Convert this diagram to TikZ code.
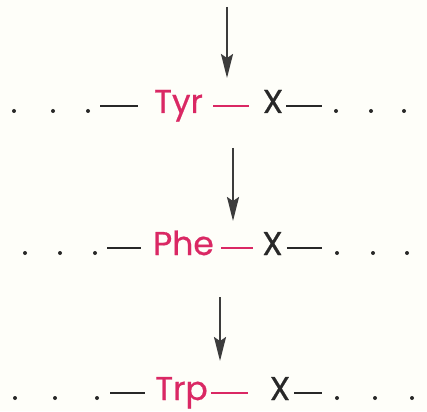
\documentclass[tikz,border=0pt]{standalone}
\usepackage{fontspec}
\newfontfamily\poppins[FakeBold=0.6]{Poppins}
\usetikzlibrary{arrows.meta}
\definecolor{papier}{RGB}{254,254,249}
\definecolor{rot}{RGB}{218,40,100}
\definecolor{schwarz}{RGB}{40,40,40}
\definecolor{pfeilgrau}{RGB}{60,60,60}
\tikzset{
  punkt/.style={circle,fill=schwarz,inner sep=0pt,minimum size=4pt},
  rest/.style={anchor=base,inner sep=0pt,text=rot,font=\poppins\fontsize{33}{38}\selectfont},
  xgruppe/.style={anchor=base,inner sep=0pt,text=schwarz,font=\poppins\fontsize{33}{38}\selectfont},
  bindung/.style={line width=2.5pt,draw=schwarz},
  rotbindung/.style={line width=2.5pt,draw=rot},
  pfeil/.style={line width=2pt,draw=pfeilgrau,-{Stealth[length=24pt,width=12pt,inset=4pt]}}
}
\begin{document}
\begin{tikzpicture}[x=1pt,y=-1pt]
  % Hintergrund
  \fill[papier] (0,0) rectangle (427,411);
  \useasboundingbox (0,0) rectangle (427,411);
  % Zeile 1: Tyr
  \node[punkt] (d11) at (14,111) {};
  \node[punkt] (d12) at (53,111) {};
  \node[punkt] (d13) at (88,111) {};
  \node[rest] (t1) at (178.5,113) {Tyr};
  \node[xgruppe] (x1) at (273,113) {X};
  \node[punkt] (d14) at (336,111) {};
  \node[punkt] (d15) at (371,111) {};
  \node[punkt] (d16) at (404,111) {};
  \draw[bindung,shorten <=10pt,shorten >=16pt] ([yshift=7pt]d13.east |- t1.base west) -- ([yshift=7pt]t1.base west);
  \draw[rotbindung,shorten <=10pt,shorten >=14pt] ([yshift=7pt]t1.base east) -- ([yshift=7pt]x1.base west);
  \draw[bindung,shorten <=3pt,shorten >=12pt] ([yshift=7pt]x1.base east) -- ([yshift=7pt]d14.west |- x1.base east);
  % Zeile 2: Phe
  \node[punkt] (d21) at (25,253) {};
  \node[punkt] (d22) at (60,253) {};
  \node[punkt] (d23) at (95,253) {};
  \node[rest] (t2) at (183.5,255) {Phe};
  \node[xgruppe] (x2) at (272.5,255) {X};
  \node[punkt] (d24) at (337,253) {};
  \node[punkt] (d25) at (373,253) {};
  \node[punkt] (d26) at (407,253) {};
  \draw[bindung,shorten <=10pt,shorten >=12pt] ([yshift=7pt]d23.east |- t2.base west) -- ([yshift=7pt]t2.base west);
  \draw[rotbindung,shorten <=7pt,shorten >=9pt] ([yshift=7pt]t2.base east) -- ([yshift=7pt]x2.base west);
  \draw[bindung,shorten <=4pt,shorten >=13pt] ([yshift=7pt]x2.base east) -- ([yshift=7pt]d24.west |- x2.base east);
  % Zeile 3: Trp
  \node[punkt] (d31) at (15,398) {};
  \node[punkt] (d32) at (55,398) {};
  \node[punkt] (d33) at (97,398) {};
  \node[rest] (t3) at (181.5,400) {Trp};
  \node[xgruppe] (x3) at (280,400) {X};
  \node[punkt] (d34) at (337,398) {};
  \node[punkt] (d35) at (375,398) {};
  \node[punkt] (d36) at (412,398) {};
  \draw[bindung,shorten <=11pt,shorten >=10pt] ([yshift=7pt]d33.east |- t3.base west) -- ([yshift=7pt]t3.base west);
  \draw[rotbindung,shorten <=3pt,shorten >=22pt] ([yshift=7pt]t3.base east) -- ([yshift=7pt]x3.base west);
  \draw[bindung,shorten <=4pt,shorten >=13pt] ([yshift=7pt]x3.base east) -- ([yshift=7pt]d34.west |- x3.base east);
  % Pfeile
  \coordinate (p1a) at (227,7);
  \coordinate (p1b) at (227,78);
  \coordinate (p2a) at (233,148);
  \coordinate (p2b) at (233,221);
  \coordinate (p3a) at (220,297);
  \coordinate (p3b) at (220,361);
  \draw[pfeil] (p1a) -- (p1b);
  \draw[pfeil] (p2a) -- (p2b);
  \draw[pfeil] (p3a) -- (p3b);
\end{tikzpicture}
\end{document}
